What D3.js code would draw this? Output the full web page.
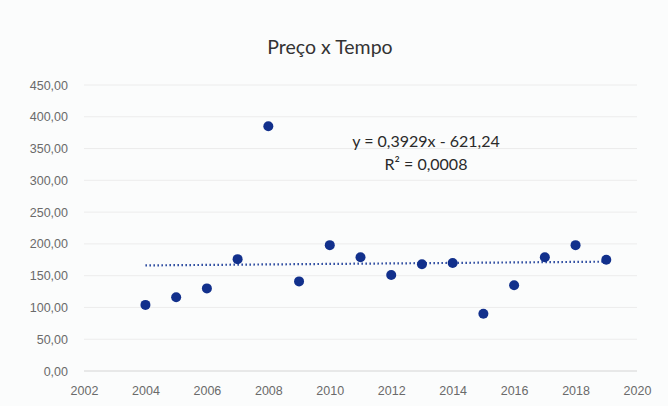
<!DOCTYPE html>
<html>
<head>
<meta charset="utf-8">
<script src="https://cdn.jsdelivr.net/npm/d3@7"></script>
<style>
	body { margin: 0; background: #fbfcfc; }
	svg { display: block; font-family: Lato, "Open Sans", sans-serif; }
	.tick text { fill: #6a6a6a; font-size: 12.5px; }
</style>
</head>
<body>
<svg id="chart" width="668" height="406"></svg>
<script>
const years = [2004, 2005, 2006, 2007, 2008, 2009, 2010, 2011, 2012, 2013, 2014, 2015, 2016, 2017, 2018, 2019];
const prices = [104, 116, 130, 176, 385, 141, 198, 179, 151, 168, 170, 90, 135, 179, 198, 175];
const xTicks = [2002, 2004, 2006, 2008, 2010, 2012, 2014, 2016, 2018, 2020];
const yTicks = [0, 50, 100, 150, 200, 250, 300, 350, 400, 450];
const trendSlope = 0.3929;
const trendIntercept = -621.24;
const equationLines = ['y = 0,3929x - 621,24', 'R² = 0,0008'];

const margin = {top: 85, right: 31, bottom: 35, left: 84};
const width = 668 - margin.left - margin.right;
const height = 406 - margin.top - margin.bottom;

const svg = d3.select('#chart');

svg.append('text')
	.attr('x', 330)
	.attr('y', 54)
	.attr('text-anchor', 'middle')
	.attr('fill', '#333')
	.style('font-size', '19.5px')
	.text('Preço x Tempo');

const g = svg.append('g').attr('transform', `translate(${margin.left},${margin.top})`);

const x = d3.scaleLinear().domain([2002, 2020]).range([0, width]);
const y = d3.scaleLinear().domain([0, 450]).range([height, 0]);

// gridlines
g.append('g')
	.selectAll('line')
	.data(yTicks)
	.join('line')
	.attr('x1', 0)
	.attr('x2', width)
	.attr('y1', d => y(d))
	.attr('y2', d => y(d))
	.attr('stroke', d => d === 0 ? '#d4d4d4' : '#ececec')
	.attr('stroke-width', 1);

g.append('g')
	.call(d3.axisLeft(y).tickValues(yTicks).tickSize(0).tickPadding(16)
		.tickFormat(d => d3.format('.2f')(d).replace('.', ',')))
	.call(a => a.select('.domain').remove());

g.append('g')
	.attr('transform', `translate(0,${height})`)
	.call(d3.axisBottom(x).tickValues(xTicks).tickSize(0).tickPadding(15).tickFormat(d3.format('d')))
	.call(a => a.select('.domain').remove());

// trendline
const trendX = d3.extent(years);
g.append('line')
	.attr('x1', x(trendX[0]))
	.attr('x2', x(trendX[1]))
	.attr('y1', y(trendSlope * trendX[0] + trendIntercept))
	.attr('y2', y(trendSlope * trendX[1] + trendIntercept))
	.attr('stroke', '#24449c')
	.attr('stroke-width', 2.2)
	.attr('stroke-dasharray', '1.5,2.5');

g.append('g')
	.selectAll('circle')
	.data(years)
	.join('circle')
	.attr('cx', d => x(d))
	.attr('cy', (d, i) => y(prices[i]))
	.attr('r', 5)
	.attr('fill', '#12308c');

svg.append('g')
	.selectAll('text')
	.data(equationLines)
	.join('text')
	.attr('x', 426)
	.attr('y', (d, i) => 147 + i * 23)
	.attr('text-anchor', 'middle')
	.attr('fill', '#2a2a2a')
	.style('font-size', '16px')
	.text(d => d);
</script>
</body>
</html>
